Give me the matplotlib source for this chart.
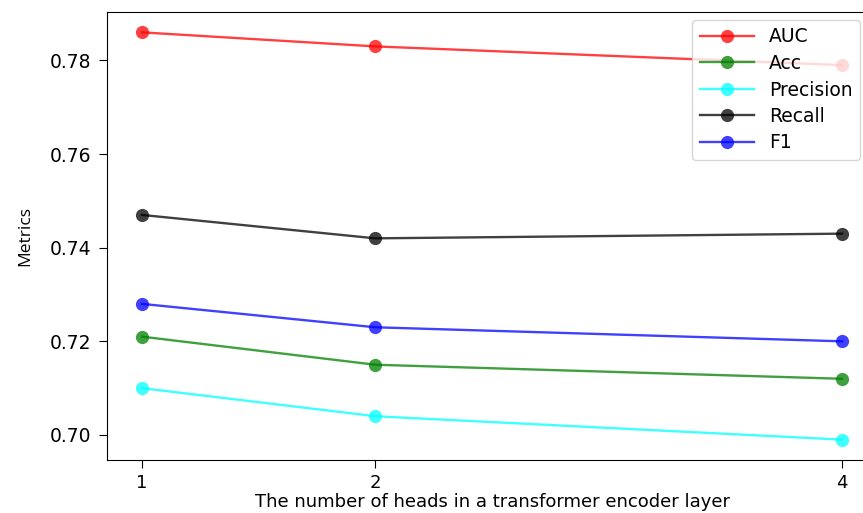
import matplotlib
matplotlib.use("Agg")
import matplotlib.pyplot as plt

heads = [1, 2, 4]
auc = [0.786, 0.783, 0.779]
acc = [0.721, 0.715, 0.712]
precision = [0.710, 0.704, 0.699]
recall = [0.747, 0.742, 0.743]
f1 = [0.728, 0.723, 0.720]

series = [
    ("AUC", auc, "red"),
    ("Acc", acc, "green"),
    ("Precision", precision, "cyan"),
    ("Recall", recall, "black"),
    ("F1", f1, "blue"),
]

fig = plt.figure(figsize=(8.63, 5.13), dpi=100)
ax = fig.add_axes([107 / 863, 53 / 513, 770 / 863, 448 / 513])

for name, vals, color in series:
    ax.plot(heads, vals, marker="o", color=color, alpha=0.75,
            markersize=9.5, markeredgewidth=0, linewidth=1.7, label=name)

ax.spines["right"].set_visible(False)
ax.set_xticks(heads)
ax.set_yticks([0.70, 0.72, 0.74, 0.76, 0.78])
ax.tick_params(labelsize=13.5, length=6, pad=5)
ax.tick_params(axis="x", labelsize=13, pad=4)
ax.set_xlabel("The number of heads in a transformer encoder layer",
              fontsize=13, labelpad=1)
ax.set_ylabel("Metrics", fontsize=12.5, family="Open Sans", labelpad=12)

ax.legend(loc="upper right", bbox_to_anchor=(860 / 863, 1 - 20 / 513),
          bbox_transform=fig.transFigure, borderaxespad=0,
          fontsize=13.5, handlelength=2.9, labelspacing=0.4)

fig.savefig("out.png", dpi=100)
